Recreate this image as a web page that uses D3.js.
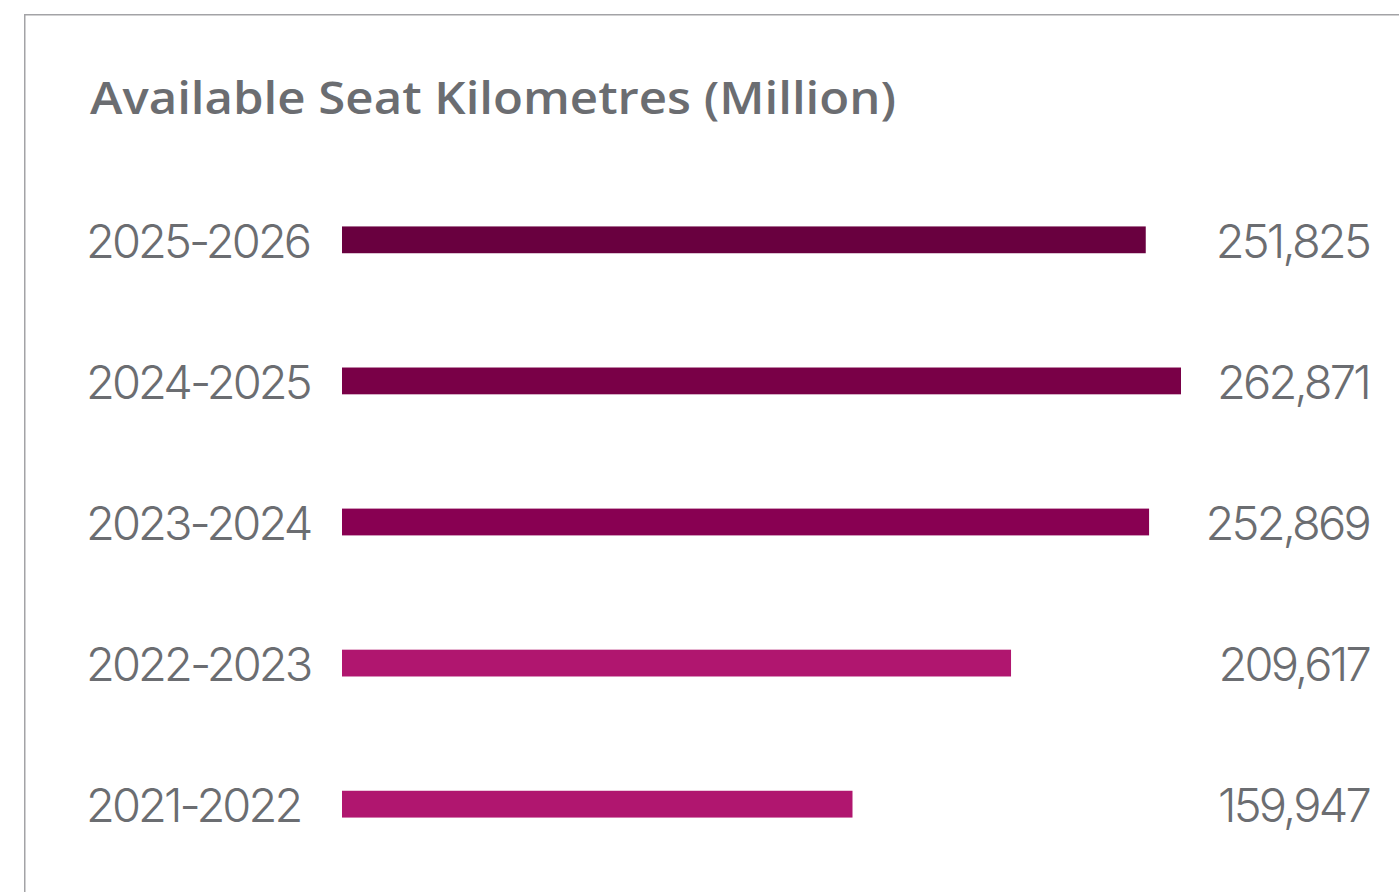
<!DOCTYPE html>
<html>
<head>
<meta charset="utf-8">
<script src="https://cdn.jsdelivr.net/npm/d3@7"></script>
<style>
  html, body { margin: 0; padding: 0; background: #ffffff; }
  svg { display: block; }
</style>
</head>
<body>
<svg id="chart" width="1399" height="892"></svg>
<script>
// Available seat kilometres by financial year (million)
const years = ["2025-2026", "2024-2025", "2023-2024", "2022-2023", "2021-2022"];
const ask = [251825, 262871, 252869, 209617, 159947];
const barColors = ["#69003f", "#790047", "#880052", "#b0166f", "#b0166f"];
const title = "Available Seat Kilometres (Million)";

const svg = d3.select("#chart");
const W = 1399, H = 892;
const textColor = "#6b6d71";

// Panel frame (runs off the right and bottom edges)
svg.append("rect")
  .attr("x", 24.75).attr("y", 14.75)
  .attr("width", W).attr("height", H)
  .attr("fill", "none")
  .attr("stroke", "#a3a3a6")
  .attr("stroke-width", 1.5);

// Title
svg.append("text")
  .attr("x", 90).attr("y", 114)
  .attr("fill", textColor)
  .attr("font-family", "'Open Sans', sans-serif")
  .attr("font-weight", 600)
  .attr("font-size", 46)
  .attr("textLength", 806)
  .attr("lengthAdjust", "spacingAndGlyphs")
  .text(title);

const x = d3.scaleLinear()
  .domain([0, d3.max(ask)])
  .range([342, 1181]);

const y = d3.scaleBand()
  .domain(years)
  .range([170, 874])
  .paddingInner(0.81)
  .paddingOuter(0.4);

const rows = years.map((yr, i) => ({ year: yr, value: ask[i], color: barColors[i] }));
const fmt = d3.format(",");

// Bars
svg.append("g").selectAll("rect")
  .data(rows)
  .join("rect")
  .attr("x", x(0))
  .attr("y", d => y(d.year))
  .attr("width", d => x(d.value) - x(0))
  .attr("height", y.bandwidth())
  .attr("fill", d => d.color);

const labelFont = "Inter, sans-serif";

// Year labels
svg.append("g").selectAll("text")
  .data(rows)
  .join("text")
  .attr("x", 86)
  .attr("y", d => y(d.year) + y.bandwidth() / 2 + 18)
  .attr("fill", textColor)
  .attr("font-family", labelFont)
  .attr("font-weight", 300)
  .attr("font-size", 47)
  .attr("letter-spacing", -2.9)
  .text(d => d.year);

// Value labels
svg.append("g").selectAll("text")
  .data(rows)
  .join("text")
  .attr("x", 1369)
  .attr("y", d => y(d.year) + y.bandwidth() / 2 + 18)
  .attr("text-anchor", "end")
  .attr("fill", textColor)
  .attr("font-family", labelFont)
  .attr("font-weight", 300)
  .attr("font-size", 47)
  .attr("letter-spacing", -2.8)
  .text(d => fmt(d.value));
</script>
</body>
</html>
